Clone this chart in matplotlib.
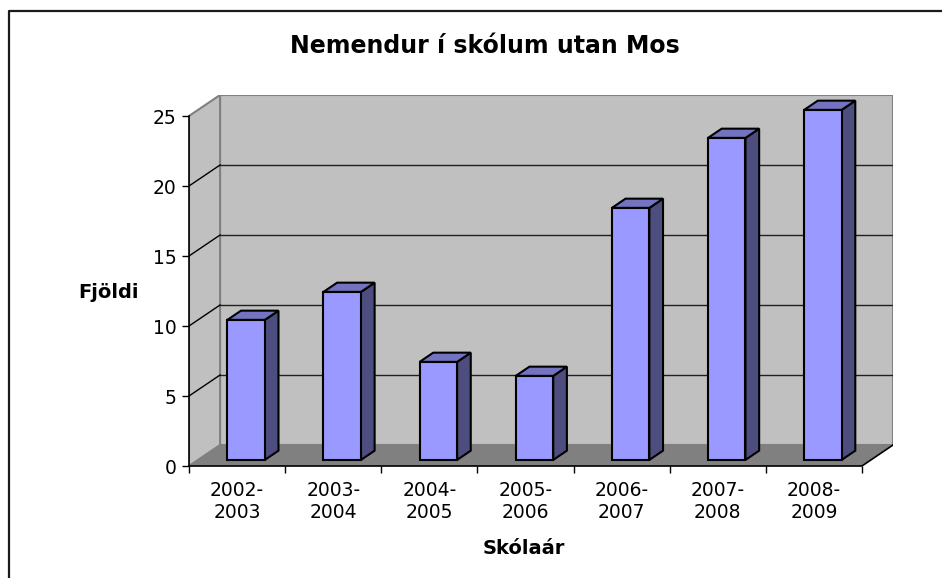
import matplotlib.pyplot as plt
from matplotlib.lines import Line2D
from matplotlib.patches import Polygon

# chart data
school_years = ["2002-\n2003", "2003-\n2004", "2004-\n2005", "2005-\n2006",
                "2006-\n2007", "2007-\n2008", "2008-\n2009"]
students = [10, 12, 7, 6, 18, 23, 25]
y_ticks = [0, 5, 10, 15, 20, 25]

title = "Nemendur í skólum utan Mos"
x_title = "Skólaár"
y_title = "Fjöldi"

# oblique 3d look, depth offset in data units
DX, DY = 0.323, 1.5
BAR_W = 0.39
BAR_FRONT = 0.29   # where the bar's front face sits inside the depth
BAR_DEPTH = 0.44

FRONT = "#9999ff"
SIDE = "#4d4d80"
TOP = "#7373bf"
WALL = "#c0c0c0"
FLOOR = "#808080"
EDGE = "#808080"

n = len(students)
ymax = y_ticks[-1]

fig = plt.figure(figsize=(9.42, 5.78), dpi=100)
ax = fig.add_axes([189 / 942, 1 - 466 / 578, (893 - 189) / 942, (466 - 95) / 578])
ax.set_xlim(0, n + DX)
ax.set_ylim(0, ymax + DY)
ax.patch.set_visible(False)

# back wall, side wall, floor
ax.add_patch(Polygon([(DX, DY), (n + DX, DY), (n + DX, ymax + DY), (DX, ymax + DY)],
                     closed=True, facecolor=WALL, edgecolor=EDGE, lw=1.5, zorder=0))
ax.add_patch(Polygon([(0, 0), (DX, DY), (DX, ymax + DY), (0, ymax)],
                     closed=True, facecolor=WALL, edgecolor=EDGE, lw=1.5, zorder=0))
for v in y_ticks[1:-1]:
    ax.plot([DX, n + DX], [v + DY, v + DY], color="#202020", lw=1.0, zorder=1)
    ax.plot([0, DX], [v, v + DY], color="black", lw=1.0, zorder=1)
ax.add_patch(Polygon([(0, 0), (n, 0), (n + DX, DY), (DX, DY)],
                     closed=True, facecolor=FLOOR, edgecolor="none", zorder=2))
ax.plot([n, n + DX], [0, DY], color="black", lw=1.2, zorder=2)

# bars
for i, v in enumerate(students):
    x0 = i + 0.5 - BAR_W / 2 + BAR_FRONT * DX
    x1 = x0 + BAR_W
    y0 = BAR_FRONT * DY
    y1 = v + y0
    ddx, ddy = BAR_DEPTH * DX, BAR_DEPTH * DY
    kw = dict(closed=True, edgecolor="black", lw=1.5, joinstyle="miter", zorder=3)
    ax.add_patch(Polygon([(x1, y0), (x1 + ddx, y0 + ddy), (x1 + ddx, y1 + ddy), (x1, y1)],
                         facecolor=SIDE, **kw))
    ax.add_patch(Polygon([(x0, y1), (x1, y1), (x1 + ddx, y1 + ddy), (x0 + ddx, y1 + ddy)],
                         facecolor=TOP, **kw))
    ax.add_patch(Polygon([(x0, y0), (x1, y0), (x1, y1), (x0, y1)],
                         facecolor=FRONT, **kw))

# axes
for side in ["top", "right"]:
    ax.spines[side].set_visible(False)
ax.spines["left"].set_bounds(0, ymax)
ax.spines["bottom"].set_bounds(0, n)
for side in ["left", "bottom"]:
    ax.spines[side].set_linewidth(1.2)
    ax.spines[side].set_zorder(4)

ax.set_yticks(y_ticks)
ax.set_yticklabels([str(t) for t in y_ticks])
ax.tick_params(axis="y", direction="out", length=5, width=1.0, pad=4, labelsize=13.5)

ax.set_xticks(range(n + 1))
ax.set_xticklabels([])
ax.set_xticks([i + 0.5 for i in range(n)], minor=True)
ax.set_xticklabels(school_years, minor=True)
ax.tick_params(axis="x", which="major", direction="out", length=5, width=1.0)
ax.tick_params(axis="x", which="minor", length=0, pad=11, labelsize=13.5)

fig.text(485 / 942, 1 - 46 / 578, title, ha="center", va="center",
         fontsize=17, fontweight="bold")
fig.text(109 / 942, 1 - 292 / 578, y_title, ha="center", va="center",
         fontsize=14, fontweight="bold")
fig.text(524 / 942, 1 - 548 / 578, x_title, ha="center", va="center",
         fontsize=14, fontweight="bold")

# outer chart frame (only top and left edges are inside the picture)
fig.add_artist(Line2D([9 / 942, 9 / 942, 1.01], [-0.01, 1 - 11 / 578, 1 - 11 / 578],
                      transform=fig.transFigure, color="#1a1a1a", lw=1.6))

fig.savefig("out.png", dpi=100)
